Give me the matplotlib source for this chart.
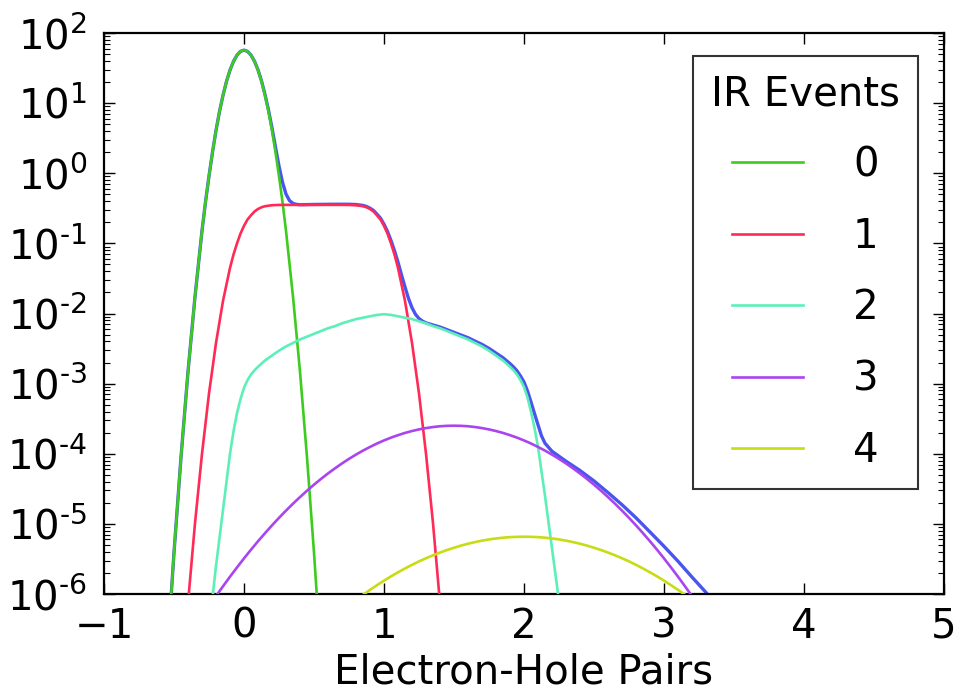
import numpy as np
import matplotlib
matplotlib.use('Agg')
import matplotlib.pyplot as plt
from matplotlib.ticker import LogLocator, FuncFormatter

# 各 IR 事件数对应的曲线：x 为电子-空穴对数，数值为 log10(计数)
events = ['0', '1', '2', '3', '4']
colors = ['#3ccc1e', '#ff2a55', '#5cf0b8', '#aa44ee', '#c8dc14']
total_color = '#4a55ee'

x_0 = [-0.6, -0.55, -0.5, -0.45, -0.4, -0.35, -0.3, -0.275, -0.25, -0.225, -0.2,
       -0.175, -0.15, -0.125, -0.1, -0.075, -0.05, -0.025, 0.0, 0.025, 0.05,
       0.075, 0.1, 0.125, 0.15, 0.175, 0.2, 0.225, 0.25, 0.275, 0.3, 0.35, 0.4,
       0.45, 0.5, 0.55, 0.6]
log_0 = [-8.57, -6.92, -5.41, -4.05, -2.83, -1.76, -0.82, -0.41, -0.04, 0.30, 0.61,
         0.88, 1.11, 1.31, 1.47, 1.595, 1.684, 1.738, 1.756, 1.738, 1.684,
         1.595, 1.47, 1.31, 1.11, 0.88, 0.61, 0.30, -0.04, -0.41, -0.82, -1.76, -2.83,
         -4.05, -5.41, -6.92, -8.57]

x_1 = [-0.5, -0.45, -0.4, -0.35, -0.3, -0.25, -0.2, -0.15, -0.1, -0.075, -0.05,
       -0.025, 0.0, 0.025, 0.05, 0.075, 0.1, 0.125, 0.15, 0.2, 0.25, 0.3, 0.5,
       0.7, 0.75, 0.8, 0.85, 0.875, 0.9, 0.925, 0.95, 0.975, 1.0, 1.025, 1.05,
       1.075, 1.1, 1.15, 1.2, 1.25, 1.3, 1.35, 1.4, 1.45, 1.5]
log_1 = [-8.78, -7.38, -6.13, -4.99, -4.00, -3.14, -2.42, -1.82, -1.35, -1.16, -1.00,
         -0.86, -0.75, -0.66, -0.60, -0.545, -0.51, -0.485, -0.47, -0.456, -0.452, -0.451, -0.451,
         -0.451, -0.452, -0.456, -0.47, -0.485, -0.51, -0.545, -0.60, -0.66, -0.75, -0.86, -1.00,
         -1.16, -1.35, -1.82, -2.42, -3.14, -4.00, -4.99, -6.13, -7.38, -8.78]

x_2 = [-0.3, -0.25, -0.2, -0.15, -0.125, -0.1, -0.075, -0.05, -0.025, 0.0, 0.025,
       0.05, 0.075, 0.1, 0.15, 0.2, 0.25, 0.3, 0.35, 0.4, 0.45, 0.5, 0.55, 0.6,
       0.65, 0.7, 0.75, 0.8, 0.85, 0.9, 0.95, 1.0, 1.05, 1.1, 1.15, 1.2, 1.25,
       1.3, 1.35, 1.4, 1.45, 1.5, 1.55, 1.6, 1.65, 1.7, 1.75, 1.8, 1.85, 1.9,
       1.925, 1.95, 1.975, 2.0, 2.025, 2.05, 2.075, 2.1, 2.125, 2.15, 2.2, 2.25, 2.3]
log_2 = [-7.4, -6.5, -5.6, -4.8, -4.4, -4.0, -3.68, -3.42, -3.22, -3.06, -2.95,
         -2.87, -2.81, -2.76, -2.67, -2.60, -2.53, -2.47, -2.42, -2.37, -2.33, -2.29, -2.25, -2.21,
         -2.18, -2.14, -2.11, -2.08, -2.06, -2.04, -2.02, -2.01, -2.02, -2.04, -2.06, -2.08, -2.11,
         -2.14, -2.18, -2.21, -2.25, -2.29, -2.33, -2.37, -2.42, -2.47, -2.53, -2.60, -2.67, -2.76,
         -2.81, -2.87, -2.95, -3.05, -3.2, -3.4, -3.63, -3.9, -4.25, -4.6, -5.35, -6.1, -7.0]

x_3 = np.round(np.arange(-0.3, 3.401, 0.05), 2)
log_3 = [-6.325, -6.176, -6.030, -5.890, -5.753, -5.621, -5.492, -5.368, -5.248, -5.133,
         -5.021, -4.914, -4.811, -4.712, -4.618, -4.527, -4.441, -4.359, -4.281, -4.208,
         -4.138, -4.073, -4.012, -3.955, -3.903, -3.854, -3.810, -3.770, -3.735, -3.703,
         -3.676, -3.653, -3.634, -3.619, -3.608, -3.602, -3.600,
         -3.602, -3.608, -3.619, -3.634, -3.653, -3.676, -3.703, -3.735, -3.770, -3.810,
         -3.854, -3.903, -3.955, -4.012, -4.073, -4.138, -4.208, -4.281, -4.359, -4.441,
         -4.527, -4.618, -4.712, -4.811, -4.914, -5.021, -5.133, -5.248, -5.368, -5.492,
         -5.621, -5.753, -5.890, -6.030, -6.176, -6.325, -6.478, -6.636]

x_4 = np.round(np.arange(0.6, 3.401, 0.05), 2)
log_4 = [-6.411, -6.325, -6.242, -6.162, -6.085, -6.012, -5.941, -5.874, -5.810, -5.748,
         -5.691, -5.636, -5.584, -5.535, -5.490, -5.448, -5.409, -5.373, -5.340, -5.310,
         -5.283, -5.260, -5.239, -5.222, -5.208, -5.197, -5.189, -5.185, -5.183,
         -5.185, -5.189, -5.197, -5.208, -5.222, -5.239, -5.260, -5.283, -5.310, -5.340,
         -5.373, -5.409, -5.448, -5.490, -5.535, -5.584, -5.636, -5.691, -5.748, -5.810,
         -5.874, -5.941, -6.012, -6.085, -6.162, -6.242, -6.325, -6.411]

# 总计数（蓝线）
x_total = [-0.6, -0.55, -0.5, -0.45, -0.4, -0.35, -0.3, -0.275, -0.25, -0.225, -0.2,
           -0.175, -0.15, -0.125, -0.1, -0.075, -0.05, -0.025, 0.0, 0.025, 0.05,
           0.075, 0.1, 0.125, 0.15, 0.175, 0.2, 0.225, 0.25, 0.275, 0.3, 0.325, 0.35,
           0.375, 0.4, 0.5, 0.6, 0.7, 0.75, 0.8, 0.85, 0.875, 0.9, 0.925, 0.95,
           0.975, 1.0, 1.025, 1.05, 1.075, 1.1, 1.125, 1.15, 1.175, 1.2, 1.225, 1.25,
           1.275, 1.3, 1.35, 1.4, 1.45, 1.5, 1.55, 1.6, 1.65, 1.7, 1.75, 1.8, 1.85,
           1.9, 1.925, 1.95, 1.975, 2.0, 2.025, 2.05, 2.075, 2.1, 2.125, 2.15, 2.2,
           2.25, 2.3, 2.4, 2.5, 2.6, 2.7, 2.8, 2.9, 3.0, 3.1, 3.2, 3.3, 3.4]
log_total = [-8.57, -6.92, -5.41, -4.05, -2.83, -1.76, -0.82, -0.41, -0.04, 0.30, 0.61,
             0.88, 1.11, 1.31, 1.47, 1.595, 1.684, 1.738, 1.756, 1.738, 1.685,
             1.597, 1.474, 1.317, 1.122, 0.90, 0.645, 0.371, 0.102, -0.129, -0.297, -0.390, -0.430,
             -0.4445, -0.449, -0.445, -0.443, -0.442, -0.4425, -0.446, -0.459, -0.474, -0.498, -0.531, -0.584,
             -0.641, -0.727, -0.831, -0.960, -1.105, -1.269, -1.449, -1.623, -1.786, -1.917, -2.012, -2.072,
             -2.109, -2.134, -2.164, -2.193, -2.231, -2.269, -2.307, -2.345, -2.394, -2.441, -2.498, -2.565, -2.631,
             -2.715, -2.762, -2.818, -2.892, -2.978, -3.105, -3.263, -3.427, -3.587, -3.745, -3.85, -3.965,
             -4.036, -4.107, -4.239, -4.388, -4.554, -4.727, -4.914, -5.116, -5.32, -5.533, -5.759, -5.978, -6.21]

xs = [x_0, x_1, x_2, x_3, x_4]
logs = [log_0, log_1, log_2, log_3, log_4]

x_ticks = [-1, 0, 1, 2, 3, 4, 5]


def pow10_label(v, pos):
    e = int(round(np.log10(v)))
    if e < 0:
        return r'$10^{\text{-}%d}$' % (-e)
    return r'$10^{%d}$' % e


plt.rcParams['font.family'] = 'DejaVu Sans'
plt.rcParams['mathtext.fontset'] = 'dejavusans'
fs = 29

fig = plt.figure(figsize=(9.55, 6.91), dpi=100)
ax = fig.add_axes([104 / 955, 1 - 594 / 691, 840 / 955, 561 / 691])

# 总和曲线放在底层，各分量画在上面
ax.plot(x_total, 10.0 ** np.array(log_total), color=total_color, lw=2.4,
        zorder=2, solid_joinstyle='round')
for x, lg, c, lab in zip(xs, logs, colors, events):
    ax.plot(x, 10.0 ** np.array(lg), color=c, lw=1.9, label=lab, zorder=3,
            solid_joinstyle='round')

ax.set_yscale('log')
ax.set_xlim(-1, 5)
ax.set_ylim(1e-6, 1e2)
ax.set_xticks(x_ticks)
ax.yaxis.set_major_locator(LogLocator(base=10, numticks=20))
ax.yaxis.set_minor_locator(LogLocator(base=10, subs=np.arange(2, 10), numticks=20))
ax.yaxis.set_major_formatter(FuncFormatter(pow10_label))

ax.tick_params(which='both', direction='in', top=True, right=True, labelsize=fs)
ax.tick_params(which='major', length=8, width=1.0, pad=9)
ax.tick_params(axis='y', which='major', pad=12)
ax.tick_params(which='minor', length=4, width=0.8)
for sp in ax.spines.values():
    sp.set_linewidth(1.6)

ax.set_xlabel('Electron-Hole Pairs', fontsize=fs, labelpad=4)

leg = ax.legend(title='IR Events', loc='upper right', bbox_to_anchor=(0.969, 0.959),
                fontsize=fs, title_fontsize=fs, frameon=True, fancybox=False,
                edgecolor='black', handlelength=1.75, handletextpad=1.25,
                labelspacing=0.78, borderpad=0.45, borderaxespad=0)
leg.get_frame().set_linewidth(1.5)

plt.savefig('out.png', dpi=100)
